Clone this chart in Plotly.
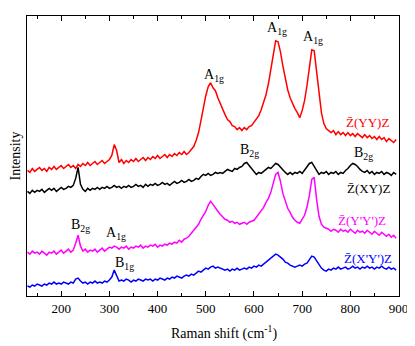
import plotly.graph_objects as go

# Raman shift grid (cm-1)
shift = list(range(130, 900, 5))

# Intensities (arbitrary units, offset stacked)
red_yy = [
    126,124,128,125,127,129,126,128,125,129,
    127,130,127,129,131,128,130,132,129,131,
    128,132,130,133,131,134,131,133,135,132,
    134,136,133,135,137,141,152,146,134,137,
    133,136,134,137,135,138,135,137,139,136,
    139,137,140,138,141,138,140,142,139,142,
    140,143,141,144,142,145,142,144,147,150,
    156,164,176,189,201,210,214,209,206,199,
    193,186,182,177,175,171,170,167,169,166,
    169,167,170,171,174,177,181,187,194,202,
    213,227,243,256,255,245,231,218,207,199,
    193,188,184,179,186,196,211,229,247,246,
    224,203,184,173,168,166,164,166,162,165,
    162,164,161,164,161,163,160,163,161,159,
    162,159,161,158,160,157,160,157,159,155,
    158,156,154,157]

black_xy = [
    105,103,106,104,106,105,107,104,106,108,
    106,108,105,107,109,107,108,110,109,111,
    118,129,112,107,105,108,106,108,107,109,
    107,109,108,110,108,109,111,109,110,108,
    110,109,111,109,110,112,110,111,109,112,
    110,112,111,113,111,112,114,112,113,111,
    113,115,113,114,116,114,115,117,115,116,
    118,117,120,122,121,123,121,122,124,123,
    124,123,125,127,126,125,128,127,129,130,
    133,134,131,128,124,122,124,123,125,127,
    129,128,131,133,132,129,126,124,122,124,
    122,124,123,125,123,126,129,133,134,130,
    125,122,124,123,125,122,124,123,125,122,
    124,123,126,128,131,133,132,130,127,125,
    124,126,123,125,122,124,123,125,122,124,
    123,121,124,122]

magenta_ypyp = [
    44,42,45,43,44,42,45,43,41,44,
    43,45,42,44,46,43,45,47,44,46,
    53,61,50,45,47,44,46,45,47,44,
    46,48,45,47,49,48,50,49,47,49,
    48,50,47,49,48,50,49,51,48,50,
    49,51,50,52,49,51,50,52,51,53,
    52,54,53,56,54,57,58,60,63,66,
    68,72,77,81,85,91,95,92,88,85,
    82,79,77,76,74,75,73,74,72,73,
    74,72,74,75,76,79,82,85,89,94,
    98,104,113,122,124,115,103,95,88,84,
    79,76,74,73,77,81,89,101,117,119,
    97,80,72,69,68,67,65,67,66,64,
    67,65,66,64,67,65,63,66,64,65,
    63,66,64,62,65,63,61,64,62,60,
    62,59,61,58]

blue_xpyp = [
    10,9,11,10,12,11,10,12,11,13,
    12,14,12,13,12,14,13,12,14,13,
    17,18,15,13,14,12,14,13,15,13,
    14,13,15,14,16,19,26,21,15,16,
    15,17,16,14,16,15,17,16,15,17,
    16,17,15,17,16,18,17,16,18,17,
    19,18,20,19,18,20,21,20,22,21,
    23,25,24,26,28,27,29,30,28,29,
    28,27,26,27,25,27,26,28,26,27,
    28,27,29,28,30,29,31,30,32,34,
    36,38,40,42,41,39,37,34,33,31,
    30,29,30,31,30,32,33,36,40,39,
    35,32,28,26,25,27,26,28,27,29,
    27,28,29,27,28,30,28,29,27,29,
    28,30,28,29,27,29,28,30,28,27,
    29,27,28,26]

series_names = ["Z\u0304(YY)Z", "Z\u0304(XY)Z", "Z\u0304(Y'Y')Z", "Z\u0304(X'Y')Z"]
series_colors = ["#ff0000", "#000000", "#ff00ff", "#0000ff"]
series_values = [red_yy, black_xy, magenta_ypyp, blue_xpyp]

# Series labels (x, y in data units)
name_pos_x = [836, 838, 824, 836]
name_pos_y = [174, 108, 76, 38]

# Mode labels
mode_text = ["A<sub>1g</sub>", "A<sub>1g</sub>", "A<sub>1g</sub>", "B<sub>2g</sub>", "B<sub>2g</sub>",
             "B<sub>2g</sub>", "A<sub>1g</sub>", "B<sub>1g</sub>"]
mode_x = [518, 648, 722, 591, 828, 239, 313, 331]
mode_y = [221, 268, 259, 146, 143, 71, 63, 33]

FONT = "Liberation Serif, Times New Roman, serif"

fig = go.Figure()
for name, col, vals in zip(series_names, series_colors, series_values):
    fig.add_trace(go.Scatter(x=shift, y=vals, mode="lines", name=name,
                             line=dict(color=col, width=1.5)))

for t, xx, yy, col in zip(series_names, name_pos_x, name_pos_y, series_colors):
    fig.add_annotation(x=xx, y=yy, text=t, showarrow=False,
                       font=dict(family=FONT, size=13, color=col),
                       xanchor="center", yanchor="middle")

for t, xx, yy in zip(mode_text, mode_x, mode_y):
    fig.add_annotation(x=xx, y=yy, text=t, showarrow=False,
                       font=dict(family=FONT, size=14, color="black"),
                       xanchor="center", yanchor="middle")

# x-axis title as annotation (slightly right of centre, as in the reference)
fig.add_annotation(x=0.53, y=-0.132, xref="paper", yref="paper",
                   text="Raman shift (cm<sup>-1</sup>)", showarrow=False,
                   font=dict(family=FONT, size=14, color="black"),
                   xanchor="center", yanchor="middle")

# page body has an 8px default margin: size the figure so the plot lands where the reference has it
fig.update_layout(
    width=407, height=338,
    margin=dict(l=15, r=13, t=7, b=50),
    paper_bgcolor="white", plot_bgcolor="white",
    showlegend=False,
    font=dict(family=FONT, size=13, color="black"),
)
fig.update_xaxes(
    range=[129, 901], tickmode="array", tickvals=[200, 300, 400, 500, 600, 700, 800, 900],
    ticks="inside", ticklen=5, tickwidth=1, tickcolor="black",
    minor=dict(tickvals=[150, 250, 350, 450, 550, 650, 750, 850], ticks="inside", ticklen=3, tickcolor="black"),
    showline=True, linecolor="black", linewidth=1.2, mirror="ticks",
    showgrid=False, zeroline=False,
    tickfont=dict(family=FONT, size=13),
)
fig.update_yaxes(
    range=[0, 281], showticklabels=False, ticks="",
    showline=True, linecolor="black", linewidth=1, mirror=True,
    showgrid=False, zeroline=False,
    title=dict(text="Intensity", font=dict(family=FONT, size=14), standoff=2),
)

fig.write_html("out.html")
